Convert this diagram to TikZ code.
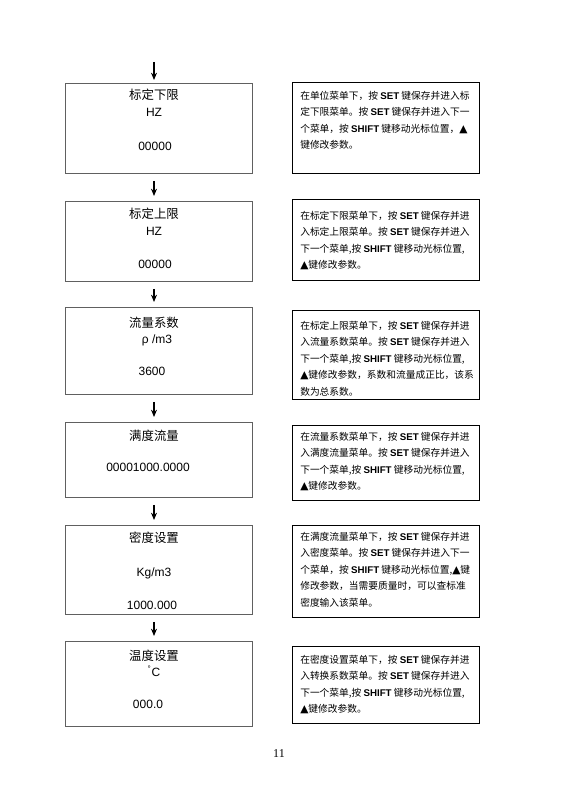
\documentclass[tikz,border=0pt]{standalone}
\usepackage{fontspec}
\setmainfont{Liberation Sans}
\newfontfamily\cjk{Noto Sans CJK SC}
\newfontfamily\symfont{DejaVu Sans}
\newfontfamily\pagefont{Liberation Serif}
\usetikzlibrary{arrows.meta, positioning}
\newcommand{\kw}[1]{{\rmfamily\bfseries #1}}
\newcommand{\upkey}{{\symfont\fontsize{8}{8}\selectfont ▲}}

\begin{document}
\begin{tikzpicture}[x=0.75pt, y=-0.75pt,
  menubox/.style={draw=gray!75!black, line width=0.6pt, anchor=north west, minimum width=140.25pt, inner sep=0pt},
  descbox/.style={draw=black, line width=0.9pt, anchor=north west, minimum width=140.25pt, inner sep=0pt},
  menutext/.style={font=\cjk\fontsize{9.3}{11}\selectfont, inner sep=0pt, text height=8pt, text depth=1.5pt},
  valtext/.style={font=\fontsize{9}{11}\selectfont, inner sep=0pt, text height=7pt, text depth=2pt},
  desctext/.style={font=\cjk\fontsize{7.3}{12.4}\selectfont, align=left, anchor=north west, inner sep=0pt},
  flowarrow/.style={-{Stealth[length=5.5pt, width=4.5pt]}, line width=0.8pt, shorten <=5.25pt, shorten >=3.75pt}
]
  \useasboundingbox (0,0) rectangle (560,791);
  \coordinate (axis) at (154,0);
  \coordinate (start) at (154,62);
  % menu screens
  \node[menubox, minimum height=67.5pt]  (b1) at (65,83)  {};
  \node[menubox, minimum height=60pt]    (b2) at (65,201) {};
  \node[menubox, minimum height=65.25pt] (b3) at (65,307) {};
  \node[menubox, minimum height=56.25pt] (b4) at (65,422) {};
  \node[menubox, minimum height=66.75pt] (b5) at (65,525) {};
  \node[menubox, minimum height=63.75pt] (b6) at (65,641) {};
  \node[menutext] (t1) at (154,95)  {标定下限};
  \node[valtext]  (u1) at (154,113) {HZ};
  \node[valtext]  (v1) at (155,147) {00000};
  \node[menutext] (t2) at (154,214) {标定上限};
  \node[valtext]  (u2) at (154,232) {HZ};
  \node[valtext]  (v2) at (155,265) {00000};
  \node[menutext] (t3) at (154,323) {流量系数};
  \node[valtext]  (u3) at (157,340) {ρ /m3};
  \node[valtext]  (v3) at (152,372) {3600};
  \node[menutext] (t4) at (154,436) {满度流量};
  \node[valtext]  (v4) at (148,468) {00001000.0000};
  \node[menutext] (t5) at (154,538) {密度设置};
  \node[valtext]  (u5) at (154,573) {Kg/m3};
  \node[valtext]  (v5) at (152,606) {1000.000};
  \node[menutext] (t6) at (154,656) {温度设置};
  \node[valtext]  (u6) at (154,673) {\textsuperscript{°}C};
  \node[valtext]  (v6) at (148,705) {000.0};
  \draw[flowarrow, shorten <=0pt, shorten >=2.25pt] (start) -- (b1.north -| axis);
  \draw[flowarrow] (b1.south -| axis) -- (b2.north -| axis);
  \draw[flowarrow] (b2.south -| axis) -- (b3.north -| axis);
  \draw[flowarrow] (b3.south -| axis) -- (b4.north -| axis);
  \draw[flowarrow] (b4.south -| axis) -- (b5.north -| axis);
  \draw[flowarrow] (b5.south -| axis) -- (b6.north -| axis);
  % notes
  \node[descbox, minimum height=68.25pt] (d1) at (292,82)  {};
  \node[descbox, minimum height=60.75pt] (d2) at (292,199) {};
  \node[descbox, minimum height=66.75pt] (d3) at (292,310) {};
  \node[descbox, minimum height=56.25pt] (d4) at (292,425) {};
  \node[descbox, minimum height=69pt]    (d5) at (292,525) {};
  \node[descbox, minimum height=57.75pt] (d6) at (292,646) {};
  \node[desctext] (n1) at (300,90.8) {在单位菜单下，按 \kw{SET} 键保存并进入标\\
    定下限菜单。按 \kw{SET} 键保存并进入下一\\
    个菜单，按 \kw{SHIFT} 键移动光标位置，\upkey\\
    键修改参数。};
  \node[desctext] (n2) at (300,210.8) {在标定下限菜单下，按 \kw{SET} 键保存并进\\
    入标定上限菜单。按 \kw{SET} 键保存并进入\\
    下一个菜单,按 \kw{SHIFT} 键移动光标位置,\\
    \upkey 键修改参数。};
  \node[desctext] (n3) at (300,320.8) {在标定上限菜单下，按 \kw{SET} 键保存并进\\
    入流量系数菜单。按 \kw{SET} 键保存并进入\\
    下一个菜单,按 \kw{SHIFT} 键移动光标位置,\\
    \upkey 键修改参数，系数和流量成正比，该系\\
    数为总系数。};
  \node[desctext] (n4) at (300,431.8) {在流量系数菜单下，按 \kw{SET} 键保存并进\\
    入满度流量菜单。按 \kw{SET} 键保存并进入\\
    下一个菜单,按 \kw{SHIFT} 键移动光标位置,\\
    \upkey 键修改参数。};
  \node[desctext] (n5) at (300,531.8) {在满度流量菜单下，按 \kw{SET} 键保存并进\\
    入密度菜单。按 \kw{SET} 键保存并进入下一\\
    个菜单，按 \kw{SHIFT} 键移动光标位置,\upkey 键\\
    修改参数，当需要质量时，可以查标准\\
    密度输入该菜单。};
  \node[desctext] (n6) at (300,654.8) {在密度设置菜单下，按 \kw{SET} 键保存并进\\
    入转换系数菜单。按 \kw{SET} 键保存并进入\\
    下一个菜单,按 \kw{SHIFT} 键移动光标位置,\\
    \upkey 键修改参数。};
  \node[font=\pagefont\fontsize{9}{9}\selectfont] (pg) at (279,754) {11};
\end{tikzpicture}
\end{document}
